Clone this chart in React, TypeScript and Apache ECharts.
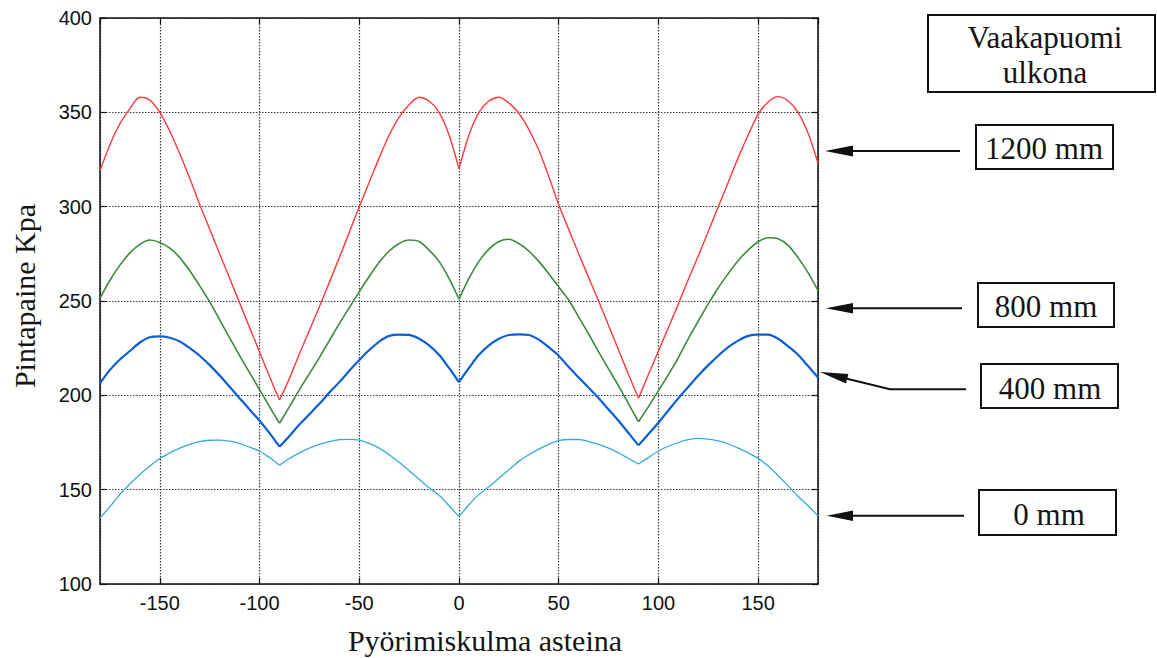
import React, { useEffect, useRef } from "react";
import * as echarts from "echarts";

// Rotation angle (degrees)
const angles = [
  -180, -175, -170, -165, -160, -155, -150, -145, -140, -135, -130, -125, -120, -115, -110, -105, -100, -95, -90,
  -85, -80, -75, -70, -65, -60, -55, -50, -45, -40, -35, -30, -25, -20, -15, -10, -5, 0,
  5, 10, 15, 20, 25, 30, 35, 40, 45, 50, 55, 60, 65, 70, 75, 80, 85, 90,
  95, 100, 105, 110, 115, 120, 125, 130, 135, 140, 145, 150, 155, 160, 165, 170, 175, 180,
];

// Surface pressure (kPa) for each boom extension
const p1200 = [
  319, 333, 344, 352, 358, 356.5, 350, 340, 328, 315, 301, 288, 275, 262, 249, 236, 223, 210, 197.5,
  209, 222, 234.5, 247, 260, 273, 286.5, 300, 313, 326, 338, 347.5, 354, 358, 356, 350, 338, 320,
  338, 350, 356, 358, 355, 349.5, 341, 330, 316, 301, 288, 275, 262.5, 250, 237, 224, 211, 198.5,
  211, 223.5, 236, 248.5, 261.5, 274, 287, 300, 313, 326, 338, 349, 355.5, 358.3, 356, 350, 339, 323,
];
const p800 = [
  251.5, 261, 269, 275.5, 280, 282.3, 281, 278, 273, 266, 258, 249.5, 240, 230.5, 221, 212, 203, 194, 185.2,
  194, 203, 211.5, 220, 229, 238, 246.5, 255, 263, 270.5, 276.5, 280.5, 282.3, 281.5, 277, 271, 262, 251,
  262, 271, 277.5, 281.5, 282.7, 280.5, 276.5, 271, 264.5, 257.5, 250.5, 241.5, 232.5, 223, 214, 205, 195.5, 186,
  194, 202.5, 211, 220, 230, 239.5, 248.5, 257, 264.5, 271.5, 277, 281.4, 283.5, 283, 279.5, 273, 265, 255.5,
];
const p400 = [
  206.4, 213.5, 219, 223.5, 228, 230.8, 231.2, 230.5, 228.5, 225, 221, 216, 210.5, 204.5, 198.5, 192.5, 186.5, 180, 172.8,
  178.5, 184.5, 190, 195.5, 201.5, 207, 213, 218.7, 224, 228.5, 231.5, 232.2, 232, 230, 226.5, 221.5, 214.5, 207,
  214.5, 221.5, 226.5, 230, 232, 232.3, 232, 229.5, 225.5, 221, 215, 209.5, 204, 198.5, 192.5, 186.5, 180, 173.5,
  179.5, 185.5, 192, 198.5, 204.5, 210.5, 216, 221, 225.5, 229, 231.5, 232.2, 232.2, 230, 226, 221.5, 215.5, 209.5,
];
const p0 = [
  135, 141, 147.5, 153, 158, 162.5, 166.5, 169.5, 172, 174, 175.5, 176.2, 176.3, 175.7, 174.5, 172.5, 170.5, 167, 163,
  166.5, 169.5, 172, 174, 175.5, 176.5, 176.7, 176.3, 174.5, 172, 168.5, 164.5, 160, 155.5, 151, 147, 141.5, 135.7,
  142, 147.5, 151.5, 156, 160.5, 165, 168.5, 171.5, 174, 176, 176.6, 176.6, 175.5, 174, 172, 169.5, 166.5, 163.6,
  167, 170.5, 173, 175, 176.5, 177.2, 176.8, 175.8, 174.2, 172, 169.5, 166.6, 162.5, 157.5, 152, 146.5, 141.5, 136,
];

// Cusp angles where the curves have sharp corners (-180, -90, 0, 90, 180)
const cuspAngles = [-180, -90, 0, 90, 180];

const seriesNames = ["1200 mm", "800 mm", "400 mm", "0 mm"];
const seriesValues = [p1200, p800, p400, p0];
const seriesColors = ["#ff3a3a", "#3a8c3a", "#0a5fd6", "#38a9dc"];
const seriesWidths = [1.4, 1.6, 2.2, 1.3];

const xTitle = "Pyörimiskulma asteina";
const yTitle = "Pintapaine Kpa";
const boxTitleLines = ["Vaakapuomi", "ulkona"];

const SANS = "'Liberation Sans', Arial, sans-serif";
const SERIF = "'Liberation Serif', 'Times New Roman', serif";

function textEl(text: string, x: number, y: number, size: number, rotation = 0) {
  return {
    type: "text",
    x,
    y,
    rotation,
    style: {
      text,
      font: `${size}px ${SERIF}`,
      fontFamily: SERIF,
      fontSize: size,
      fill: "#151515",
      align: "center",
      verticalAlign: "middle",
      textAlign: "center",
      textVerticalAlign: "middle",
    },
  };
}

function boxEl(x: number, y: number, w: number, h: number) {
  return {
    type: "rect",
    shape: { x, y, width: w, height: h },
    style: { fill: "#fff", stroke: "#111", lineWidth: 2 },
  };
}

function lineEl(points: number[][]) {
  return {
    type: "polyline",
    shape: { points },
    style: { stroke: "#111", lineWidth: 2, fill: null },
  };
}

function headEl(points: number[][]) {
  return {
    type: "polygon",
    shape: { points },
    style: { fill: "#111" },
  };
}

export default function App() {
  const ref = useRef<HTMLDivElement>(null);

  useEffect(() => {
    const chart = echarts.init(ref.current!, null, { renderer: "svg" });

    const axisLine = { show: true, onZero: false, lineStyle: { color: "#111", width: 1.5 } };
    const axisTick = { show: true, inside: true, length: 6, lineStyle: { color: "#111", width: 1.2 } };
    const splitLine = { show: true, lineStyle: { color: "#3a3a3a", type: [1.5, 1.5], width: 1.2 } };

    // each curve drawn as smooth arches between the cusps
    const series: any[] = [];
    seriesNames.forEach((name, i) => {
      for (let k = 0; k < cuspAngles.length - 1; k++) {
        const s = angles.indexOf(cuspAngles[k]);
        const e = angles.indexOf(cuspAngles[k + 1]);
        const data = [];
        for (let j = s; j <= e; j++) data.push([angles[j], seriesValues[i][j]]);
        series.push({
          name,
          type: "line",
          xAxisIndex: 0,
          yAxisIndex: 0,
          showSymbol: false,
          symbol: "none",
          smooth: 0.3,
          data,
          lineStyle: { color: seriesColors[i], width: seriesWidths[i] },
          itemStyle: { color: seriesColors[i] },
          z: 3,
        });
      }
    });

    const option: any = {
      animation: false,
      backgroundColor: "#fff",
      grid: { left: 100, top: 18, right: 339, bottom: 74, containLabel: false },
      xAxis: [
        {
          type: "value",
          min: -180,
          max: 180,
          splitNumber: 7,
          position: "bottom",
          axisLine,
          axisTick,
          splitLine,
          axisLabel: {
            showMinLabel: false,
            showMaxLabel: false,
            fontSize: 20,
            fontFamily: SANS,
            color: "#111",
            margin: 9,
          },
        },
        {
          type: "value",
          min: -180,
          max: 180,
          splitNumber: 7,
          position: "top",
          axisLine,
          axisTick,
          splitLine: { show: false },
          axisLabel: { show: false },
        },
      ],
      yAxis: [
        {
          type: "value",
          min: 100,
          max: 400,
          interval: 50,
          position: "left",
          axisLine,
          axisTick,
          splitLine,
          axisLabel: { fontSize: 20, fontFamily: SANS, color: "#111", margin: 8 },
        },
        {
          type: "value",
          min: 100,
          max: 400,
          interval: 50,
          position: "right",
          axisLine,
          axisTick,
          splitLine: { show: false },
          axisLabel: { show: false },
        },
      ],
      series,
      graphic: [
        textEl(xTitle, 485, 640, 30),
        textEl(yTitle, 24, 296, 30, Math.PI / 2),
        boxEl(928, 15, 227, 77),
        textEl(boxTitleLines[0], 1045, 37, 31),
        textEl(boxTitleLines[1], 1045, 72, 31),
        // 1200 mm
        boxEl(976, 125, 137, 44),
        textEl(seriesNames[0], 1044, 148, 31),
        lineEl([[960, 151], [850, 151]]),
        headEl([[825, 151], [853, 145.5], [853, 156.5]]),
        // 800 mm
        boxEl(978, 283, 136, 44),
        textEl(seriesNames[1], 1046, 306, 31),
        lineEl([[962, 308.3], [850, 308.3]]),
        headEl([[826, 308.3], [853, 303], [853, 313.6]]),
        // 400 mm
        boxEl(981, 364, 137, 44),
        textEl(seriesNames[2], 1050, 388, 31),
        lineEl([[966, 389.3], [890, 389.3], [845, 378.2]]),
        headEl([[820, 372], [846, 383.6], [848.4, 373.9]]),
        // 0 mm
        boxEl(979, 490, 137, 45),
        textEl(seriesNames[3], 1049, 514, 31),
        lineEl([[964, 515.7], [850, 515.7]]),
        headEl([[826.7, 515.7], [853, 510.5], [853, 521]]),
      ],
    };

    chart.setOption(option);
    return () => chart.dispose();
  }, []);

  return (
    <div
      ref={ref}
      style={{ position: "absolute", left: 0, top: 0, width: 1157, height: 658, background: "#fff" }}
    />
  );
}
